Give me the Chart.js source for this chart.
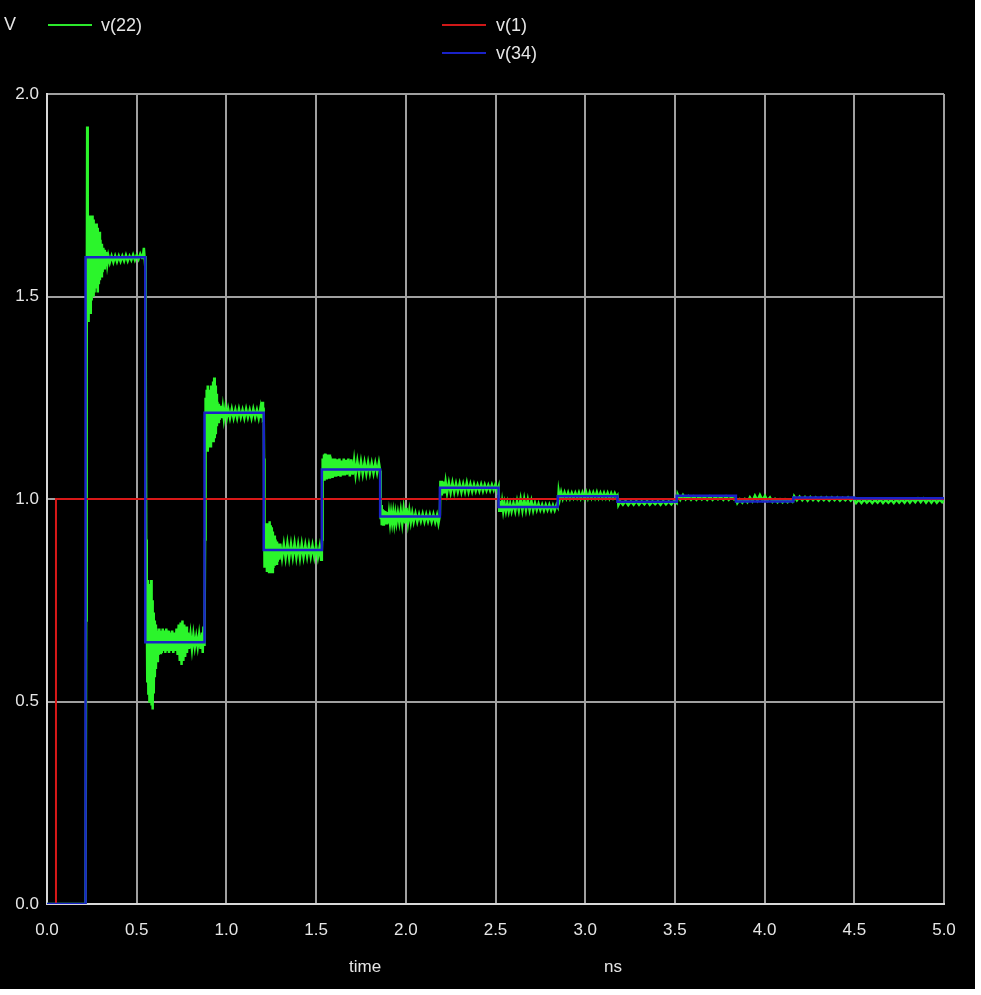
<!DOCTYPE html>
<html>
<head>
<meta charset="utf-8">
<script src="https://cdn.jsdelivr.net/npm/chart.js@4/dist/chart.umd.min.js"></script>
<style>
  html, body { margin: 0; padding: 0; background: #ffffff; }
  #wrap { position: relative; width: 975px; height: 989px; background: #000; }
  #c { position: absolute; left: 0; top: 0; }
  .t { position: absolute; color: #e6e6e6; font-family: "Liberation Sans", Arial, sans-serif; font-size: 17px; line-height: 20px; white-space: nowrap; }
  .sw { position: absolute; height: 2px; width: 44px; }
</style>
</head>
<body>
<div id="wrap">
  <canvas id="c" width="975" height="989"></canvas>
  <div class="t" style="left:4px;top:14px;font-size:18px;">V</div>
  <div class="sw" style="left:48px;top:24px;background:#2be82b;"></div>
  <div class="t" style="left:101px;top:15px;font-size:18px;">v(22)</div>
  <div class="sw" style="left:442px;top:24px;background:#d01818;"></div>
  <div class="t" style="left:496px;top:15px;font-size:18px;">v(1)</div>
  <div class="sw" style="left:442px;top:52px;background:#1a22c8;"></div>
  <div class="t" style="left:496px;top:43px;font-size:18px;">v(34)</div>
  <div class="t" style="left:349px;top:957px;">time</div>
  <div class="t" style="left:604px;top:957px;">ns</div>
</div>
<script>
// ---- tick values ----
const xTicks = [0, 0.5, 1.0, 1.5, 2.0, 2.5, 3.0, 3.5, 4.0, 4.5, 5.0];
const yTicks = [0, 0.5, 1.0, 1.5, 2.0];

// ---- v(1): red source step ----
const redT = [0, 0.05, 5.0];
const redV = [0, 1.0, 1.0];

// ---- v(34): blue staircase (value starts at time) ----
const blueT = [0, 0.215, 0.548, 0.878, 1.208, 1.532, 1.857, 2.19, 2.517, 2.847, 3.18, 3.51, 3.84, 4.16, 4.5, 5.0];
const blueV = [0, 1.597, 0.646, 1.213, 0.874, 1.073, 0.957, 1.028, 0.98, 1.007, 0.993, 1.008, 0.994, 1.004, 1.002, 1.002];

// ---- v(22): green ringing waveform, [time ns, volts] per segment ----
const green0 = [[0,0],[0.215,0]];
const green1 = [[0.218,0.7],[0.221,1.3],[0.224,1.92],[0.227,1.75],[0.229,1.44],[0.231,1.7],[0.233,1.45],[0.235,1.68],[0.237,1.47],[0.239,1.7],[0.241,1.46],[0.243,1.67],[0.245,1.5],[0.247,1.69],[0.249,1.49],[0.251,1.7],[0.253,1.5],[0.255,1.68],[0.257,1.51],[0.259,1.69],[0.261,1.5],[0.263,1.68],[0.265,1.51],[0.268,1.67],[0.271,1.52],[0.274,1.68],[0.277,1.52],[0.28,1.67],[0.283,1.51],[0.286,1.66],[0.289,1.53],[0.292,1.66],[0.295,1.54],[0.298,1.64],[0.302,1.55],[0.306,1.63],[0.31,1.56],[0.314,1.62],[0.318,1.57],[0.322,1.615],[0.326,1.575],[0.33,1.61],[0.336,1.58],[0.342,1.6],[0.35,1.584],[0.36,1.6],[0.37,1.585],[0.38,1.6],[0.39,1.586],[0.4,1.6],[0.41,1.587],[0.42,1.6],[0.43,1.588],[0.44,1.602],[0.45,1.588],[0.46,1.6],[0.47,1.59],[0.48,1.603],[0.49,1.59],[0.5,1.602],[0.51,1.592],[0.52,1.605],[0.53,1.595],[0.535,1.6],[0.54,1.62],[0.545,1.59],[0.548,1.6]];
const green2 = [[0.55,1.4],[0.553,0.9],[0.556,0.78],[0.559,0.55],[0.562,0.8],[0.565,0.52],[0.568,0.79],[0.571,0.5],[0.574,0.77],[0.577,0.53],[0.58,0.8],[0.583,0.49],[0.586,0.75],[0.589,0.48],[0.592,0.72],[0.595,0.52],[0.598,0.7],[0.601,0.56],[0.604,0.69],[0.607,0.58],[0.61,0.68],[0.614,0.6],[0.618,0.675],[0.622,0.615],[0.626,0.68],[0.63,0.62],[0.635,0.675],[0.64,0.62],[0.645,0.68],[0.65,0.625],[0.655,0.675],[0.66,0.62],[0.665,0.68],[0.67,0.625],[0.675,0.675],[0.68,0.62],[0.686,0.67],[0.692,0.625],[0.698,0.675],[0.704,0.62],[0.71,0.67],[0.716,0.625],[0.722,0.68],[0.728,0.615],[0.734,0.69],[0.74,0.6],[0.745,0.695],[0.75,0.59],[0.755,0.7],[0.76,0.6],[0.765,0.69],[0.77,0.61],[0.775,0.685],[0.78,0.62],[0.786,0.67],[0.792,0.63],[0.8,0.665],[0.808,0.63],[0.816,0.665],[0.824,0.635],[0.832,0.66],[0.84,0.635],[0.848,0.665],[0.856,0.63],[0.864,0.67],[0.868,0.62],[0.872,0.685],[0.876,0.64],[0.878,0.65]];
const green3 = [[0.881,0.9],[0.884,1.25],[0.887,1.12],[0.89,1.27],[0.893,1.12],[0.896,1.28],[0.899,1.13],[0.902,1.26],[0.905,1.14],[0.908,1.27],[0.911,1.13],[0.914,1.28],[0.917,1.14],[0.92,1.27],[0.923,1.15],[0.926,1.29],[0.929,1.14],[0.932,1.3],[0.935,1.15],[0.938,1.28],[0.941,1.16],[0.944,1.26],[0.947,1.18],[0.95,1.24],[0.954,1.19],[0.958,1.235],[0.962,1.195],[0.968,1.23],[0.974,1.2],[0.98,1.225],[0.986,1.198],[0.994,1.225],[1.002,1.2],[1.01,1.222],[1.02,1.2],[1.03,1.222],[1.04,1.2],[1.05,1.22],[1.06,1.2],[1.07,1.222],[1.08,1.202],[1.09,1.22],[1.1,1.2],[1.11,1.222],[1.12,1.202],[1.13,1.22],[1.14,1.2],[1.15,1.222],[1.16,1.202],[1.17,1.22],[1.18,1.2],[1.19,1.225],[1.196,1.2],[1.2,1.24],[1.204,1.205],[1.208,1.21]];
const green4 = [[1.21,1.1],[1.211,0.95],[1.214,0.83],[1.217,0.93],[1.22,0.83],[1.223,0.94],[1.226,0.82],[1.229,0.935],[1.232,0.83],[1.235,0.94],[1.238,0.82],[1.241,0.945],[1.244,0.82],[1.247,0.935],[1.25,0.83],[1.253,0.93],[1.256,0.82],[1.259,0.92],[1.262,0.83],[1.266,0.91],[1.27,0.835],[1.274,0.9],[1.278,0.84],[1.282,0.895],[1.286,0.845],[1.29,0.89],[1.295,0.85],[1.3,0.89],[1.31,0.855],[1.32,0.888],[1.33,0.855],[1.34,0.89],[1.35,0.855],[1.36,0.888],[1.37,0.857],[1.38,0.89],[1.39,0.856],[1.4,0.887],[1.41,0.855],[1.42,0.888],[1.43,0.857],[1.44,0.886],[1.45,0.858],[1.46,0.886],[1.47,0.858],[1.48,0.885],[1.49,0.857],[1.5,0.884],[1.51,0.856],[1.52,0.882],[1.528,0.85],[1.532,0.87]];
const green5 = [[1.534,0.9],[1.535,1.0],[1.538,1.1],[1.541,1.05],[1.544,1.11],[1.547,1.045],[1.55,1.112],[1.553,1.05],[1.556,1.108],[1.559,1.048],[1.562,1.11],[1.565,1.05],[1.568,1.105],[1.571,1.052],[1.574,1.11],[1.577,1.05],[1.58,1.105],[1.584,1.055],[1.588,1.1],[1.592,1.052],[1.596,1.1],[1.6,1.055],[1.606,1.1],[1.612,1.055],[1.618,1.098],[1.624,1.057],[1.63,1.1],[1.636,1.055],[1.642,1.095],[1.648,1.058],[1.654,1.1],[1.66,1.058],[1.666,1.097],[1.672,1.06],[1.68,1.1],[1.688,1.056],[1.696,1.098],[1.704,1.06],[1.712,1.094],[1.72,1.06],[1.73,1.093],[1.74,1.062],[1.75,1.092],[1.76,1.062],[1.77,1.09],[1.78,1.063],[1.79,1.09],[1.8,1.064],[1.81,1.088],[1.82,1.064],[1.83,1.088],[1.84,1.065],[1.85,1.09],[1.857,1.07]];
const green6 = [[1.86,0.95],[1.863,0.985],[1.866,0.935],[1.87,0.975],[1.874,0.937],[1.878,0.972],[1.882,0.938],[1.886,0.97],[1.89,0.94],[1.895,0.968],[1.9,0.94],[1.906,0.966],[1.912,0.94],[1.918,0.965],[1.924,0.942],[1.93,0.966],[1.936,0.94],[1.942,0.964],[1.948,0.942],[1.956,0.966],[1.964,0.942],[1.972,0.97],[1.98,0.94],[1.988,0.975],[1.996,0.94],[2.004,0.978],[2.012,0.942],[2.02,0.97],[2.028,0.943],[2.036,0.965],[2.044,0.944],[2.054,0.964],[2.064,0.944],[2.074,0.962],[2.084,0.945],[2.094,0.963],[2.104,0.944],[2.114,0.962],[2.124,0.945],[2.134,0.962],[2.144,0.944],[2.154,0.962],[2.164,0.943],[2.174,0.96],[2.182,0.94],[2.19,0.96]];
const green7 = [[2.193,1.045],[2.197,1.012],[2.201,1.045],[2.205,1.013],[2.21,1.043],[2.215,1.014],[2.222,1.042],[2.23,1.015],[2.24,1.04],[2.25,1.016],[2.26,1.04],[2.27,1.017],[2.28,1.038],[2.29,1.018],[2.3,1.038],[2.31,1.017],[2.32,1.037],[2.33,1.018],[2.34,1.04],[2.35,1.018],[2.36,1.037],[2.37,1.019],[2.38,1.036],[2.39,1.02],[2.4,1.035],[2.41,1.02],[2.42,1.036],[2.43,1.02],[2.44,1.035],[2.45,1.021],[2.46,1.034],[2.47,1.021],[2.48,1.035],[2.49,1.022],[2.5,1.036],[2.51,1.02],[2.517,1.03]];
const green8 = [[2.521,0.968],[2.526,0.995],[2.531,0.968],[2.537,0.992],[2.543,0.97],[2.55,0.99],[2.558,0.97],[2.566,0.99],[2.574,0.97],[2.582,0.988],[2.59,0.97],[2.6,0.99],[2.61,0.97],[2.62,0.995],[2.63,0.972],[2.64,1.0],[2.65,0.972],[2.66,1.0],[2.67,0.973],[2.68,0.998],[2.69,0.973],[2.7,0.995],[2.71,0.972],[2.72,0.99],[2.73,0.973],[2.74,0.988],[2.75,0.973],[2.76,0.986],[2.77,0.972],[2.78,0.986],[2.79,0.973],[2.8,0.986],[2.81,0.972],[2.82,0.985],[2.83,0.972],[2.84,0.986],[2.847,0.98]];
const green9 = [[2.852,1.018],[2.858,1.0],[2.866,1.017],[2.875,1.001],[2.885,1.016],[2.895,1.002],[2.905,1.016],[2.915,1.002],[2.925,1.015],[2.935,1.003],[2.945,1.015],[2.955,1.003],[2.965,1.016],[2.975,1.002],[2.985,1.016],[2.995,1.002],[3.005,1.017],[3.015,1.002],[3.025,1.016],[3.035,1.003],[3.045,1.016],[3.055,1.003],[3.065,1.017],[3.075,1.003],[3.085,1.015],[3.095,1.003],[3.105,1.015],[3.115,1.003],[3.125,1.015],[3.135,1.002],[3.145,1.014],[3.155,1.003],[3.165,1.014],[3.175,1.004],[3.18,1.008]];
const green10 = [[3.185,0.985],[3.195,0.994],[3.21,0.986],[3.225,0.995],[3.24,0.985],[3.255,0.994],[3.27,0.986],[3.285,0.995],[3.3,0.986],[3.315,0.994],[3.33,0.987],[3.345,0.995],[3.36,0.986],[3.375,0.994],[3.39,0.987],[3.405,0.994],[3.42,0.986],[3.435,0.995],[3.45,0.987],[3.465,0.994],[3.48,0.987],[3.495,0.995],[3.51,0.99]];
const green11 = [[3.515,1.012],[3.53,0.998],[3.545,1.01],[3.56,0.999],[3.575,1.007],[3.59,0.998],[3.605,1.006],[3.62,0.998],[3.635,1.006],[3.65,0.999],[3.665,1.005],[3.68,0.998],[3.695,1.006],[3.71,0.998],[3.725,1.005],[3.74,0.999],[3.755,1.005],[3.77,0.998],[3.785,1.006],[3.8,0.998],[3.815,1.005],[3.83,0.999],[3.84,1.002]];
const green12 = [[3.848,0.99],[3.862,0.999],[3.876,0.991],[3.89,1.0],[3.904,0.992],[3.918,1.004],[3.932,0.994],[3.946,1.008],[3.96,0.996],[3.974,1.01],[3.988,0.997],[4.002,1.008],[4.016,0.996],[4.03,1.004],[4.044,0.993],[4.058,1.0],[4.072,0.992],[4.086,0.999],[4.1,0.992],[4.114,0.999],[4.128,0.992],[4.142,0.998],[4.156,0.993],[4.16,0.996]];
const green13 = [[4.165,1.007],[4.18,0.997],[4.195,1.006],[4.21,0.997],[4.225,1.005],[4.24,0.996],[4.255,1.005],[4.27,0.997],[4.285,1.004],[4.3,0.996],[4.315,1.004],[4.33,0.997],[4.345,1.004],[4.36,0.996],[4.375,1.004],[4.39,0.997],[4.405,1.004],[4.42,0.996],[4.435,1.003],[4.45,0.997],[4.465,1.004],[4.48,0.996],[4.495,1.003]];
const green14 = [[4.51,0.99],[4.525,0.998],[4.54,0.99],[4.555,0.999],[4.57,0.991],[4.585,0.998],[4.6,0.99],[4.615,0.998],[4.63,0.991],[4.645,0.999],[4.66,0.99],[4.675,0.998],[4.69,0.991],[4.705,0.998],[4.72,0.99],[4.735,0.999],[4.75,0.991],[4.765,0.999],[4.78,0.991],[4.795,1.0],[4.81,0.991],[4.825,1.0],[4.84,0.992],[4.855,1.001],[4.87,0.992],[4.885,1.001],[4.9,0.991],[4.915,1.0],[4.93,0.991],[4.945,1.0],[4.96,0.991],[4.975,0.999],[4.99,0.992],[5.0,0.996]];

const greenSegments = [green0, green1, green2, green3, green4, green5, green6, green7, green8, green9, green10, green11, green12, green13, green14];
const greenData = greenSegments.flat().map(p => ({ x: p[0], y: p[1] }));
const redData = redT.map((t, i) => ({ x: t, y: redV[i] }));
const blueData = blueT.map((t, i) => ({ x: t, y: blueV[i] }));

const tickFont = { family: "'Liberation Sans', Arial, sans-serif", size: 17 };

new Chart(document.getElementById('c'), {
  type: 'line',
  data: {
    datasets: [
      { label: 'v(34)', data: blueData, borderColor: '#1a22c8', borderWidth: 2.5, stepped: true, pointRadius: 0, order: 0 },
      { label: 'v(1)', data: redData, borderColor: '#d81818', borderWidth: 2, stepped: true, pointRadius: 0, order: 1 },
      { label: 'v(22)', data: greenData, borderColor: '#2bf52b', borderWidth: 2.5, pointRadius: 0, tension: 0, order: 2 }
    ]
  },
  options: {
    responsive: false,
    animation: false,
    devicePixelRatio: 1,
    layout: { padding: { top: 94, right: 31, left: 0, bottom: 0 } },
    plugins: { legend: { display: false }, tooltip: { enabled: false } },
    scales: {
      x: {
        type: 'linear', min: 0, max: 5,
        afterBuildTicks: s => { s.ticks = xTicks.map(v => ({ value: v })); },
        afterFit: s => { s.height = 85; },
        ticks: { color: '#e6e6e6', font: tickFont, padding: 16, maxRotation: 0, autoSkip: false, callback: v => Number(v).toFixed(1) },
        grid: { color: '#a0a0a0', lineWidth: 2, drawTicks: false },
        border: { display: true, color: '#d8d8d8', width: 2 }
      },
      y: {
        type: 'linear', min: 0, max: 2,
        afterBuildTicks: s => { s.ticks = yTicks.map(v => ({ value: v })); },
        afterFit: s => { s.width = 47; },
        ticks: { color: '#e6e6e6', font: tickFont, padding: 8, autoSkip: false, callback: v => Number(v).toFixed(1) },
        grid: { color: '#a0a0a0', lineWidth: 2, drawTicks: false },
        border: { display: true, color: '#d8d8d8', width: 2 }
      }
    }
  }
});
</script>
</body>
</html>
